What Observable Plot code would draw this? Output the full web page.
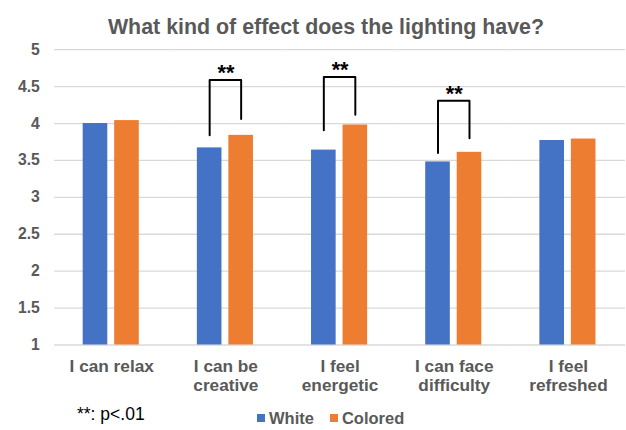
<!DOCTYPE html>
<html>
<head>
<meta charset="utf-8">
<script src="https://cdn.jsdelivr.net/npm/d3@7"></script>
<script src="https://cdn.jsdelivr.net/npm/@observablehq/plot@0.6"></script>
<style>
  html, body { margin: 0; padding: 0; background: #fff; }
  body { width: 626px; height: 430px; overflow: hidden; position: relative;
         font-family: "Liberation Sans", Arial, Helvetica, sans-serif; }
  #chart { position: absolute; left: 0; top: 0; }
  #chart svg { display: block; }
  #title { position: absolute; left: 326px; top: 17px; transform: translateX(-50%); line-height: 1;
           white-space: nowrap; font-size: 21.4px; font-weight: bold; color: #595959; }
  #note { position: absolute; left: 77px; top: 406px; line-height: 1; font-size: 17.5px; color: #000; white-space: nowrap; }
  #legend { position: absolute; left: 257px; top: 410px; line-height: 1; display: flex; align-items: center;
            font-size: 16.5px; font-weight: bold; color: #595959; white-space: nowrap; }
  #legend .sw { width: 8px; height: 8px; display: inline-block; margin-right: 4px; }
  #legend .item { display: flex; align-items: center; margin-right: 16px; }
</style>
</head>
<body>
<div id="chart"></div>
<div id="title">What kind of effect does the lighting have?</div>
<div id="note">**: p&lt;.01</div>
<div id="legend"></div>
<script>
// Survey statements (x categories) and their two-line axis labels
const categories = ["I can relax", "I can be creative", "I feel energetic", "I can face difficulty", "I feel refreshed"];
const tickLabels = ["I can relax", "I can be\ncreative", "I feel\nenergetic", "I can face\ndifficulty", "I feel\nrefreshed"];

// Lighting conditions and mean ratings
const series = ["White", "Colored"];
const whiteValues = [4.00, 3.67, 3.64, 3.48, 3.77];
const coloredValues = [4.04, 3.84, 3.98, 3.61, 3.79];
const seriesColors = ["#4472C4", "#ED7D31"];

// Rating scale
const yMin = 1;
const yMax = 5;
const yTicks = [1, 1.5, 2, 2.5, 3, 3.5, 4, 4.5, 5];

// Significance brackets (rating levels for the top bar and the two leg ends)
const sigCategories = ["I can be creative", "I feel energetic", "I can face difficulty"];
const sigMark = "**";
const bracketTop = [4.59, 4.63, 4.31];
const bracketLeftEnd = [3.84, 3.91, 3.60];
const bracketRightEnd = [4.06, 4.12, 3.80];

const rows = categories.flatMap((c, i) => [
  {category: c, series: "White", value: whiteValues[i]},
  {category: c, series: "Colored", value: coloredValues[i]}
]);

const bracketPoints = sigCategories.flatMap((c, i) => [
  {category: c, series: "White", value: bracketLeftEnd[i]},
  {category: c, series: "White", value: bracketTop[i]},
  {category: c, series: "Colored", value: bracketTop[i]},
  {category: c, series: "Colored", value: bracketRightEnd[i]}
]);

const chart = Plot.plot({
  width: 636,
  height: 430,
  marginTop: 50,
  marginBottom: 80,
  marginLeft: 53,
  marginRight: 0,
  style: {fontFamily: "'Liberation Sans', Arial, Helvetica, sans-serif", color: "#595959", background: "transparent"},
  fx: {domain: categories, padding: 0, label: null},
  x: {domain: series, paddingInner: 0.21, paddingOuter: 0.874, axis: null},
  y: {domain: [yMin, yMax], label: null},
  color: {domain: series, range: seriesColors},
  marks: [
    Plot.gridY(yTicks, {stroke: "#d9d9d9", strokeOpacity: 1, strokeWidth: 1.3}),
    Plot.axisY(yTicks, {tickSize: 0, tickPadding: 15, fontSize: 16, fontWeight: "bold", tickFormat: d => String(d), label: null}),
    Plot.axisFx({anchor: "bottom", tickSize: 0, tickPadding: 14, fontSize: 17.5, fontWeight: "bold", lineHeight: 1.1,
                 tickFormat: d => tickLabels[categories.indexOf(d)], label: null}),
    Plot.barY(rows, {fx: "category", x: "series", y1: () => yMin, y2: "value", fill: "series"}),
    Plot.line(bracketPoints, {fx: "category", x: "series", y: "value", z: "category", stroke: "#000", strokeWidth: 2}),
    Plot.text(sigCategories, {fx: d => d, y: (d, i) => bracketTop[i], text: () => sigMark, lineAnchor: "bottom",
                              fontSize: 22, fontWeight: "bold", fill: "#000"})
  ]
});
document.getElementById("chart").appendChild(chart);

// Legend
const legend = d3.select("#legend");
series.forEach((s, i) => {
  const item = legend.append("div").attr("class", "item");
  item.append("span").attr("class", "sw").style("background", seriesColors[i]);
  item.append("span").text(s);
});
</script>
</body>
</html>
